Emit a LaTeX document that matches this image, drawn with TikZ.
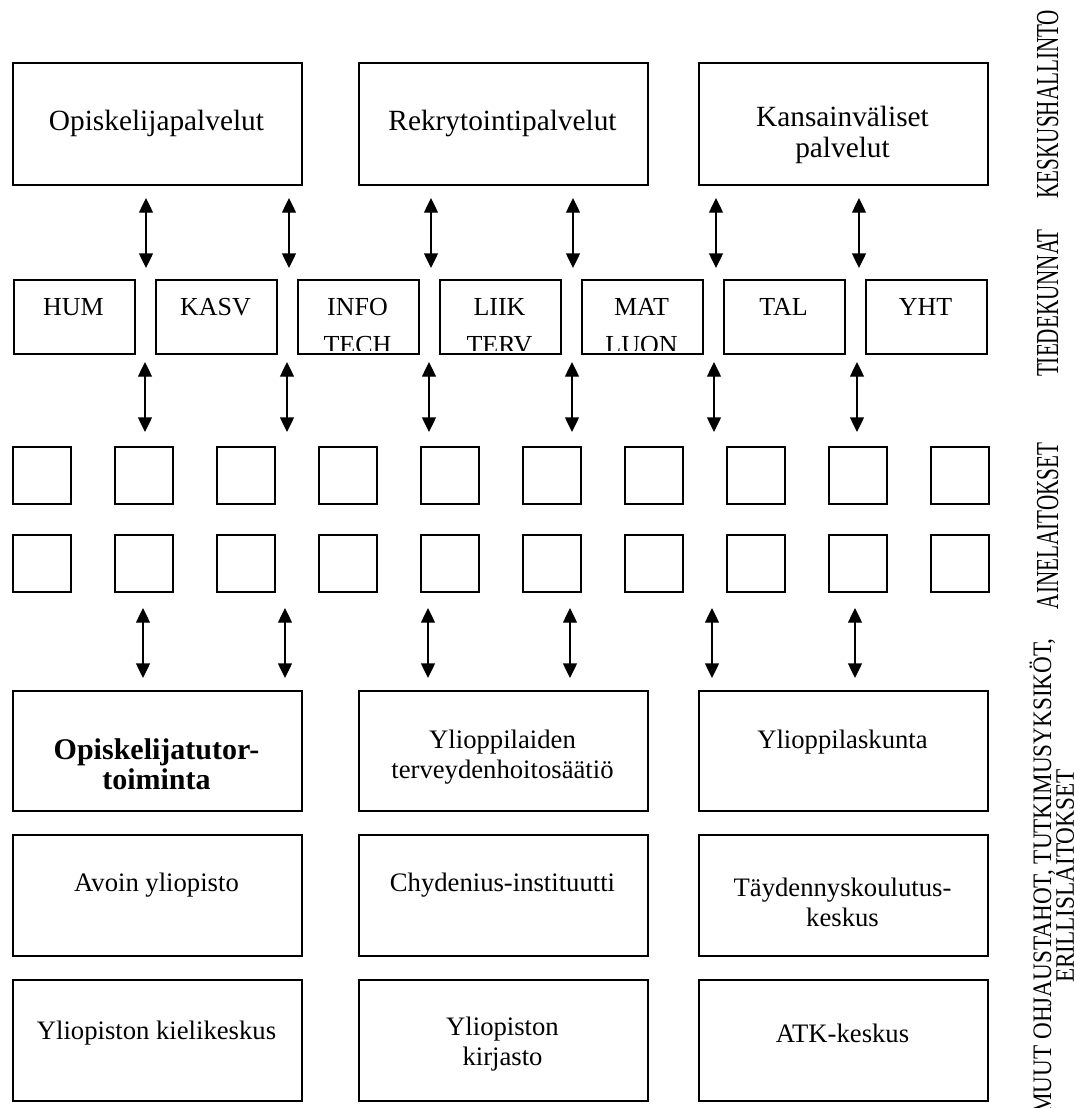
\documentclass[tikz,border=0pt]{standalone}
\usepackage{fontspec}
\setmainfont{Liberation Serif}
\usetikzlibrary{arrows.meta}
\newcommand{\ml}[1]{\begin{tabular}[t]{@{}c@{}}#1\end{tabular}}
\newcommand{\bx}[5]{\node[box, minimum width={(#4-#2)*0.75pt}, minimum height={(#5-#3)*0.75pt}] (#1) at (#2,#3) {};}
\tikzset{
 box/.style={draw, line width=1.2pt, inner sep=0pt, anchor=north west},
 dbl/.style={line width=1pt, {Triangle[width=10.5pt,length=11pt]}-{Triangle[width=10.5pt,length=11pt]}},
 txt/.style={anchor=base, inner sep=0pt},
 bigtxt/.style={txt, font=\fontsize{22}{23.5}\selectfont},
 midtxt/.style={txt, font=\fontsize{20}{22.5}\selectfont},
 factxt/.style={txt, font=\fontsize{19.5}{28.5}\selectfont},
 side/.style={rotate=90, anchor=base, inner sep=0pt},
}
\begin{document}
\begin{tikzpicture}[x=0.75pt, y=-0.75pt]
\useasboundingbox (0,0) rectangle (1074,1108);
% top row
\bx{op}{12}{62}{301}{184}
\bx{rek}{358}{62}{647}{184}
\bx{kv}{698}{62}{987}{184}
\node[bigtxt] (opt) at (156.5,130) {Opiskelijapalvelut};
\node[bigtxt] (rekt) at (502.5,130) {Rekrytointipalvelut};
\node[bigtxt] (kvt) at (842.5,126) {\ml{Kansainväliset\\palvelut}};
% faculties
\foreach \n/\t [count=\i from 0] in {hum/HUM, kasv/KASV, info/{INFO\\TECH}, liik/{LIIK\\TERV}, mat/{MAT\\LUON}, tal/TAL, yht/YHT}{
  \pgfmathsetmacro{\xa}{13+142*\i}
  \pgfmathsetmacro{\xb}{\xa+121}
  \pgfmathsetmacro{\xc}{\xa+60.5}
  \bx{\n}{\xa}{279}{\xb}{353}
  \begin{scope}
    \clip (\xa,280) rectangle (\xb,350.5);
    \node[factxt] (\n t) at (\xc,315) {\ml{\t}};
  \end{scope}
}
% small squares
\foreach \i in {0,...,9}{
  \pgfmathsetmacro{\xa}{12+102*\i}
  \pgfmathsetmacro{\xb}{\xa+58}
  \bx{sa\i}{\xa}{446}{\xb}{503}
  \bx{sb\i}{\xa}{534}{\xb}{591}
}
% arrows
\foreach \x [count=\i] in {146,289,431,573,716,859}{
  \coordinate (A\i t) at (\x,198); \coordinate (A\i b) at (\x,268);
  \draw[dbl] (A\i t) -- (A\i b);
}
\foreach \x [count=\i] in {145,287,429,572,714,857}{
  \coordinate (B\i t) at (\x,362); \coordinate (B\i b) at (\x,432);
  \draw[dbl] (B\i t) -- (B\i b);
}
\foreach \x [count=\i] in {143,285,428,570,712,855}{
  \coordinate (C\i t) at (\x,608); \coordinate (C\i b) at (\x,678);
  \draw[dbl] (C\i t) -- (C\i b);
}
% bottom rows
\bx{tut}{12}{690}{301}{810}
\bx{yts}{358}{690}{647}{810}
\bx{ylk}{698}{690}{987}{810}
\bx{avo}{12}{834}{301}{955}
\bx{chy}{358}{834}{647}{955}
\bx{tay}{698}{834}{987}{955}
\bx{kie}{12}{979}{301}{1100}
\bx{kir}{358}{979}{647}{1100}
\bx{atk}{698}{979}{987}{1100}
\node[txt, font=\fontsize{22.5}{22.5}\selectfont\bfseries] (tutt) at (156.5,759) {\ml{Opiskelijatutor-\\toiminta}};
\node[midtxt] (ytst) at (502.5,748) {\ml{Ylioppilaiden\\terveydenhoitosäätiö}};
\node[midtxt] (ylkt) at (842.5,748) {Ylioppilaskunta};
\node[midtxt] (avot) at (156.5,891) {Avoin yliopisto};
\node[midtxt] (chyt) at (502.5,891) {Chydenius-instituutti};
\node[midtxt] (tayt) at (842.5,896) {\ml{Täydennyskoulutus-\\keskus}};
\node[midtxt] (kiet) at (156.5,1039) {Yliopiston kielikeskus};
\node[midtxt] (kirt) at (502.5,1035) {\ml{Yliopiston\\kirjasto}};
\node[midtxt] (atkt) at (842.5,1042) {ATK-keskus};
% side labels
\node[side, font=\fontsize{24}{24}\selectfont] (l1) at (1058,104) {\scalebox{0.66}[1]{KESKUSHALLINTO}};
\node[side, font=\fontsize{24}{24}\selectfont] (l2) at (1058,303) {\scalebox{0.66}[1]{TIEDEKUNNAT}};
\node[side, font=\fontsize{24}{24}\selectfont] (l3) at (1058,526) {\scalebox{0.66}[1]{AINELAITOKSET}};
\node[side, font=\fontsize{20}{13}\selectfont] (l4) at (1051,876) {\scalebox{0.87}[1]{\ml{MUUT OHJAUSTAHOT, TUTKIMUSYKSIKÖT,\\ERILLISLAITOKSET}}};
\end{tikzpicture}
\end{document}
